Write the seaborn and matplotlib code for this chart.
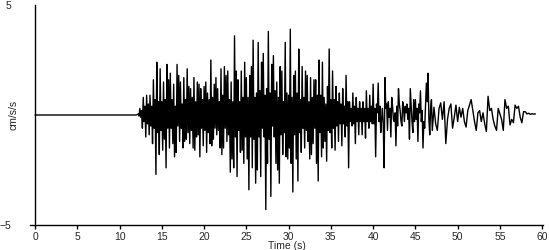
import numpy as np
import pandas as pd
import matplotlib
matplotlib.use("Agg")
import matplotlib.pyplot as plt
import seaborn as sns

sns.set_style("white")
plt.rcParams['font.family'] = ['Liberation Sans', 'DejaVu Sans']

# Acceleration (cm/s/s) read from the record, per segment: (start time, sample step, values)
pre_event_t = [0.0, 12.0]
pre_event_v = [0.0, 0.0]
seg_12 = [0.05, -0.05, 0.3, -0.1, 0.2, -0.6, 0.8, -0.3, 0.4, -1.0, 0.9, -0.4, 0.5, -0.9,
          0.9, -0.5, 0.4, -1.3, 1.6, -0.6, 0.7, -2.7, 2.4, -0.8, 0.6, -1.8, 2.1, -0.7]
seg_15 = [0.6, -1.6, 1.5, -1.1, 0.7, -2.4, 2.3, -0.6, 1.6, -1.5, 1.9, -0.6, 0.7, -1.3,
          1.4, -1.9, 0.4, -1.7, 2.3, -0.5, 1.8, -1.2, 1.5, -0.6, 0.5, -1.5, 1.7, -1.2,
          0.7, -1.1, 2.1, -0.8, 1.3, -1.3, 1.2, -0.7, 0.8, -1.5, 1.7, -1.6, 0.6, -1.0,
          1.5, -0.9, 1.4, -1.9, 1.2, -0.6, 0.7, -1.4]
seg_20 = [1.3, -0.7, 1.5, -1.7, 1.0, -0.8, 0.7, -1.3, 2.5, -1.4, 0.8, -1.1, 1.4, -0.6,
          1.7, -0.9, 1.2, -0.7, 0.6, -1.5, 2.1, -1.8, 0.9, -1.5, 2.2, -0.6, 1.8, -1.2,
          2.0, -0.9, 0.7, -2.6, 1.5, -2.0, 0.6, -2.4, 3.6, -1.0, 2.0, -2.8, 1.6, -0.7,
          0.6, -1.7, 2.0, -1.6, 0.8, -2.2, 2.4, -1.0]
seg_25 = [1.7, -2.0, 0.8, -3.4, 1.8, -1.0, 2.2, -2.4, 3.4, -1.1, 0.8, -3.1, 1.0, -2.5,
          3.3, -1.0, 1.1, -2.8, 2.4, -0.6, 2.8, -1.0, 0.9, -4.3, 1.2, -2.2, 3.8, -1.1,
          1.0, -3.7, 2.3, -0.5, 2.7, -1.0, 1.1, -2.2, 1.5, -2.5, 0.8, -3.1, 2.2, -0.9,
          2.0, -1.8, 0.6, -0.8, 3.3, -1.9, 1.0, -2.0]
seg_30 = [0.9, -1.5, 3.9, -2.2, 0.8, -3.5, 1.8, -0.9, 2.0, -2.0, 1.0, -3.0, 3.0, -0.8,
          0.7, -1.7, 2.2, -0.6, 0.8, -1.5, 2.0, -0.7, 1.8, -1.2, 0.6, -2.0, 1.7, -1.8,
          0.8, -1.3, 1.6, -0.6, 1.6, -2.2, 0.9, -3.0, 2.5, -0.8, 0.9, -1.9, 2.4, -1.5,
          0.8, -1.2, 0.5, -2.1, 1.3, -0.7, 3.0, -0.8]
seg_35 = [0.7, -1.5, 2.0, -0.6, 0.7, -1.6, 1.3, -0.5, 0.6, -1.2, 1.0, -0.4, 0.5, -1.4,
          1.2, -0.4, 0.4, -1.0, 1.8, -0.5, 0.6, -2.4, 0.6, -0.3, 0.3, -0.5, 1.0, -0.4,
          0.4, -1.3, 0.8, -0.3, 0.3, -0.9, 0.6, -0.3, 0.3, -0.9, 0.6, -0.3, 0.3, -1.05,
          1.1, -0.3, 0.3, -0.6, 0.9, -0.3, 0.4, -0.4]
seg_40 = [1.4, -0.4, 0.3, -1.9, 0.5, 0.1, 1.45, -0.3, 0.4, -0.8, -0.2, 0.3, -0.5, -2.4,
          1.7, 0.3, 0.5, -0.7, 0.6, -0.1, 0.3, -1.0, 0.8, 0.4, -0.2, -0.3, 0.1, -1.4,
          0.4, -0.5, 1.2, 0.5, 0.2, -0.3, -0.5, 0.6, 0.3, -0.3, 0.4, 0.1, 0.5, -0.2,
          0.3, -1.1, 1.2, 0.4, -0.3, -0.8, 0.7, -0.3]
seg_45 = [0.7, -0.2, 0.3, -1.2, 0.5, 0.1, 1.1, -0.3, 0.2, -1.5, -0.3, -0.6, 0.4, 1.45,
          0.6, 1.9, -0.2, -0.9, 0.3, 0.7]
seg_47 = [-0.7, 0.35, -0.4, -0.7, 0.3, 0.55, -0.2, 0.6, -1.3, -0.2, 0.3, 0.5, -0.6, -0.1,
          0.45]
seg_50 = [-0.3, 0.35, -0.1, 0.3, -0.3, -0.55, 0.2, 0.45, 0.7, 0.2, -0.3, -0.7, 0.1, 0.2, -0.3,
          0.1, -0.4, -0.75, 0.85, 0.2, 0.3, -0.2, -0.5, -0.7, 0.3]
seg_55 = [-0.2, -0.7, 0.7, 0.3, 0.4, -0.45, -0.2, -0.35, 0.45, 0.3, 0.4, -0.1, -0.35, 0.15,
          0.15, 0.05, 0.08, 0.03, 0.06, 0.04, 0.05]
segments = [(12.2, 0.1, seg_12), (15.0, 0.1, seg_15), (20.0, 0.1, seg_20),
            (25.0, 0.1, seg_25), (30.0, 0.1, seg_30), (35.0, 0.1, seg_35),
            (40.0, 0.1, seg_40), (45.0, 0.1, seg_45), (47.0, 0.2, seg_47),
            (50.0, 0.2, seg_50), (55.2, 0.2, seg_55)]

t_all = list(pre_event_t)
v_all = list(pre_event_v)
for start, step, vals in segments:
    t_all += list(start + step * np.arange(len(vals)))
    v_all += list(vals)
df = pd.DataFrame({"Time (s)": t_all, "cm/s/s": v_all})

x_ticks = list(range(0, 61, 5))
y_ticks = [-5, 5]

fig = plt.figure(figsize=(5.5, 2.5), dpi=100)
ax = fig.add_axes([30 / 550, 0.1, 513 / 550, 0.88])
sns.lineplot(data=df, x="Time (s)", y="cm/s/s", ax=ax, color="black", linewidth=1.0,
             estimator=None, sort=False)

ax.set_xlim(-0.6, 60.1)
ax.set_ylim(-5, 5)
ax.spines['left'].set_position(('data', 0))
ax.spines['top'].set_visible(False)
ax.spines['right'].set_visible(False)
for s in ['left', 'bottom']:
    ax.spines[s].set_color('black')
    ax.spines[s].set_linewidth(1.0)
ax.set_xticks(x_ticks)
ax.set_yticks(y_ticks)
ax.tick_params(axis='x', direction='out', length=3, width=1, pad=2, labelsize=7.5,
               bottom=True, color='black')
ax.tick_params(axis='y', length=0, pad=17, labelsize=7.5, left=True)
ax.set_xlabel("Time (s)", fontsize=7.5, labelpad=-1)
ax.set_ylabel("cm/s/s", fontsize=7.5)
ax.yaxis.set_label_coords(-0.022, 0.5)
ax.grid(False)

fig.savefig("out.png", dpi=100)
